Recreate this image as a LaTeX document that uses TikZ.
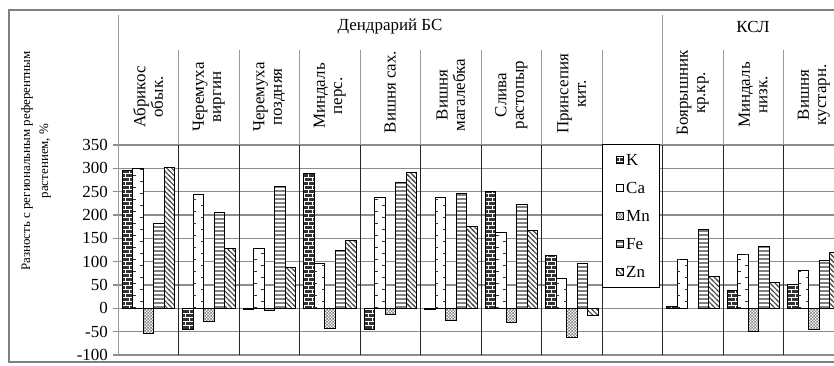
\documentclass[tikz,border=0pt]{standalone}
\usepackage{fontspec}
\setmainfont{Liberation Serif}
\usetikzlibrary{patterns}

% bar fillings
\pgfdeclarepatternformonly{kbricks}{\pgfqpoint{-1pt}{-1pt}}{\pgfqpoint{9pt}{9pt}}{\pgfqpoint{8pt}{8pt}}{%
  \pgfsetlinewidth{1pt}%
  \pgfpathmoveto{\pgfqpoint{0pt}{0pt}}\pgfpathlineto{\pgfqpoint{8pt}{0pt}}%
  \pgfpathmoveto{\pgfqpoint{0pt}{4pt}}\pgfpathlineto{\pgfqpoint{8pt}{4pt}}%
  \pgfpathmoveto{\pgfqpoint{2pt}{0pt}}\pgfpathlineto{\pgfqpoint{2pt}{4pt}}%
  \pgfpathmoveto{\pgfqpoint{6pt}{4pt}}\pgfpathlineto{\pgfqpoint{6pt}{8pt}}%
  \pgfusepath{stroke}}
\pgfdeclarepatternformonly{mnchecker}{\pgfpointorigin}{\pgfqpoint{3pt}{3pt}}{\pgfqpoint{3pt}{3pt}}{%
  \pgfpathrectangle{\pgfpointorigin}{\pgfqpoint{1.5pt}{1.5pt}}%
  \pgfpathrectangle{\pgfqpoint{1.5pt}{1.5pt}}{\pgfqpoint{1.5pt}{1.5pt}}\pgfusepath{fill}}
\pgfdeclarepatternformonly{festripes}{\pgfpointorigin}{\pgfqpoint{6pt}{3.6pt}}{\pgfqpoint{6pt}{3.6pt}}{%
  \pgfpathrectangle{\pgfpointorigin}{\pgfqpoint{6pt}{2pt}}\pgfusepath{fill}}
\pgfdeclarepatternformonly{znlines}{\pgfqpoint{-1pt}{-1pt}}{\pgfqpoint{6pt}{6pt}}{\pgfqpoint{5pt}{5pt}}{%
  \pgfsetlinewidth{1.1pt}%
  \pgfpathmoveto{\pgfqpoint{-1pt}{6pt}}\pgfpathlineto{\pgfqpoint{6pt}{-1pt}}\pgfusepath{stroke}}

\tikzset{
  txt/.style={font=\fontsize{17}{17.5}\selectfont, inner sep=0pt},
  colhead/.style={txt, rotate=90, align=center},
  gridline/.style={black!45, line width=1.2bp},
  headline/.style={black!40, line width=0.9bp},
  colline/.style={black!85, line width=0.9bp},
  kbar/.style={draw=black, line width=0.9bp, preaction={fill=black!80}, pattern=kbricks, pattern color=white},
  cabar/.style={draw=black, line width=0.9bp, fill=white},
  cadash/.style={black!80, line width=3bp, dash pattern=on 1bp off 11bp},
  mnbar/.style={draw=black, line width=0.9bp, preaction={fill=white}, pattern=mnchecker, pattern color=black!50},
  febar/.style={draw=black, line width=0.9bp, preaction={fill=white}, pattern=festripes, pattern color=black!50},
  znbar/.style={draw=black, line width=0.9bp, preaction={fill=white}, pattern=znlines, pattern color=black!70}
}

\begin{document}
\begin{tikzpicture}[x=1bp, y=1bp]
  \useasboundingbox (0,0) rectangle (834,-365);
  \clip (0,0) rectangle (834,-365);
  \fill[white] (0,0) rectangle (834,-365);
  \draw[black!50, line width=1.5bp] (9,-10) rectangle (850,-362);

  % grid and value axis
  \foreach \v in {-100,-50,...,350}{
    \draw[gridline] (113,-308.33+0.46667*\v) -- (850,-308.33+0.46667*\v);
    \node[txt, anchor=east] (t\v) at (108,-308.33+0.46667*\v) {\v};
  }
  \draw[headline] (118,-15) -- (118,-355);

  % header and column lines
  \foreach \i in {2,...,9,11,12}
    \draw[headline] (118+60.5*\i-60.5,-50) -- (118+60.5*\i-60.5,-145);
  \draw[headline] (662.5,-15) -- (662.5,-145);
  \foreach \i in {2,...,12}
    \draw[colline] (118+60.5*\i-60.5,-145) -- (118+60.5*\i-60.5,-355);

  \node[txt] (dendr) at (390,-27) {Дендрарий БС};
  \node[txt] (ksl) at (753,-27) {КСЛ};

  \node[colhead] (h1) at (148.25,-97) {Абрикос\\обык.};
  \node[colhead] (h2) at (208.75,-97) {Черемуха\\виргин};
  \node[colhead] (h3) at (269.25,-97) {Черемуха\\поздняя};
  \node[colhead] (h4) at (329.75,-96) {Миндаль\\перс.};
  \node[colhead] (h5) at (390.25,-92) {Вишня сах.};
  \node[colhead] (h6) at (450.75,-95) {Вишня\\магалебка};
  \node[colhead] (h7) at (511.25,-95) {Слива\\растопыр};
  \node[colhead] (h8) at (571.75,-94) {Принсепия\\кит.};
  \node[colhead] (h10) at (692.75,-93) {Боярышник\\кр.кр.};
  \node[colhead] (h11) at (753.25,-95) {Миндаль\\низк.};
  \node[colhead] (h12) at (813.75,-95) {Вишня\\кустарн.};

  \node[colhead, font=\fontsize{13}{18}\selectfont] (ylab) at (36,-161)
    {Разность с региональным референтным\\растением, \%};

  % bars: K, Ca, Mn, Fe, Zn
  \begin{scope}[shift={(0,-308.33)}, y=0.46667bp]
    \foreach \i/\k/\ca/\mn/\fe/\zn in {1/296/300/-54/182/302, 2/-46/244/-29/206/128,
        3/-2/128/-4/261/88, 4/288/96/-43/124/146, 5/-46/238/-13/269/291,
        6/-2/238/-27/246/176, 7/250/162/-30/223/166, 8/113/64/-63/96/-16,
        10/5/105/0/170/69, 11/38/116/-50/132/56, 12/51/81/-45/102/120}{
      \pgfmathsetmacro{\xa}{122+60.5*(\i-1)}
      \draw[kbar] (\xa,0) rectangle ++(10.5,\k);
      \draw[cabar] (\xa+10.5,0) rectangle ++(10.5,\ca);
      \draw[cadash] (\xa+12,0) -- ++(0,\ca);
      \draw[cadash, dash phase=6bp] (\xa+19.5,0) -- ++(0,\ca);
      \ifnum\mn=0 \else \draw[mnbar] (\xa+21,0) rectangle ++(10.5,\mn); \fi
      \draw[febar] (\xa+31.5,0) rectangle ++(10.5,\fe);
      \draw[znbar] (\xa+42,0) rectangle ++(10.5,\zn);
    }
  \end{scope}

  % legend
  \draw[black, line width=1bp, fill=white] (602,-144) rectangle (659,-287);
  \draw[kbar, line width=0.7bp] (616,-156.5) rectangle ++(7,-7);
  \node[txt, anchor=west] (lk) at (626,-160) {K};
  \draw[cabar, line width=0.7bp] (616,-184.5) rectangle ++(7,-7);
  \node[txt, anchor=west] (lca) at (626,-188) {Ca};
  \draw[mnbar, line width=0.7bp] (616,-212.5) rectangle ++(7,-7);
  \node[txt, anchor=west] (lmn) at (626,-216) {Mn};
  \draw[febar, line width=0.7bp] (616,-240.5) rectangle ++(7,-7);
  \node[txt, anchor=west] (lfe) at (626,-244) {Fe};
  \draw[znbar, line width=0.7bp] (616,-268.5) rectangle ++(7,-7);
  \node[txt, anchor=west] (lzn) at (626,-272) {Zn};
\end{tikzpicture}
\end{document}
